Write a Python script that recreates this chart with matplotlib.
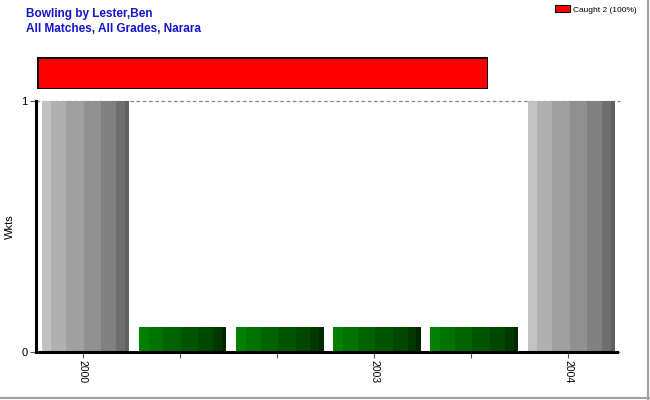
import matplotlib
matplotlib.use('Agg')
import matplotlib.pyplot as plt
from matplotlib.lines import Line2D
from matplotlib.patches import Patch

plt.rcParams['font.family'] = ['Liberation Sans', 'DejaVu Sans']

# data
seasons = ['2000', '', '', '2003', '', '2004']
wkts = [1, 0.1, 0.1, 0.1, 0.1, 1]
played = [True, False, False, False, False, True]   # gray = bowled, green = no wickets
dismissals = ['Caught']
dismissal_counts = [2]
dismissal_pct = [100]

# stripe look of the bars (light -> dark)
stripe_w = [0.11, 0.17, 0.2, 0.2, 0.17, 0.1, 0.05]
grays = ['#c2c2c2', '#b0b0b0', '#a0a0a0', '#909090', '#808080', '#6e6e6e', '#606060']
greens = ['#008000', '#007200', '#006300', '#005600', '#004800', '#003800', '#002800']

W, H = 650, 400
fig = plt.figure(figsize=(6.5, 4), dpi=100)

# main axes
ax = fig.add_axes([36 / W, 1 - 352 / H, 581 / W, 251 / H])
bw = 0.9
off = 0.03
for i, (v, p) in enumerate(zip(wkts, played)):
    cols = grays if p else greens
    left = i - bw / 2 + off
    for w, c in zip(stripe_w, cols):
        ax.bar(left, v, width=w * bw, align='edge', color=c, linewidth=0, zorder=2)
        left += w * bw

ax.set_xlim(-0.48, 5.5)
ax.set_ylim(0, 1)
ax.set_yticks([0, 1])
ax.set_yticklabels(['0', '1'], fontsize=8)
ax.set_xticks(range(len(seasons)))
ax.set_xticklabels(seasons, rotation=270, fontsize=7.5)
ax.tick_params(axis='both', length=4, width=0.8, color='#555555', pad=2)
for y in [0, 1]:
    ax.axhline(y, color='#888888', linestyle=(0, (3, 2)), linewidth=0.9, zorder=1,
               xmin=0, xmax=1.005, clip_on=False)
ax.spines['top'].set_visible(False)
ax.spines['right'].set_visible(False)
ax.spines['left'].set_linewidth(2.2)
ax.spines['bottom'].set_linewidth(2.2)
ax.spines['left'].set_zorder(3)
ax.spines['bottom'].set_zorder(3)
ax.set_ylabel('Wkts', fontsize=8)
ax.yaxis.set_label_coords((15 - 36) / 581, 0.5)

# dismissal bar on top
tax = fig.add_axes([37 / W, 1 - 89 / H, 451 / W, 32 / H])
left = 0
for d, pct in zip(dismissals, dismissal_pct):
    tax.barh(0, pct, left=left, height=1, color='#ff0000', edgecolor='black', linewidth=2)
    left += pct
tax.set_xlim(0, 100)
tax.set_ylim(-0.5, 0.5)
tax.axis('off')

# legend
handles = [Patch(facecolor='#ff0000', edgecolor='black', linewidth=0.8,
                 label=f'{d} {n} ({p}%)')
           for d, n, p in zip(dismissals, dismissal_counts, dismissal_pct)]
fig.legend(handles=handles, loc='upper right', bbox_to_anchor=(640 / W, 1 - 2 / H),
           frameon=False, fontsize=6, handlelength=1.8, handleheight=0.9,
           handletextpad=0.4, borderaxespad=0)

# titles
fig.text(26 / W, 1 - 17 / H, 'Bowling by Lester,Ben', color='#1414c8',
         fontsize=8.5, fontweight='bold')
fig.text(26 / W, 1 - 32 / H, 'All Matches, All Grades, Narara', color='#1414c8',
         fontsize=8.5, fontweight='bold')

# frame shadow right and bottom
fig.add_artist(Line2D([648 / W, 648 / W], [0, 1], color='#a0a0a0', linewidth=1.5))
fig.add_artist(Line2D([0, 1], [2 / H, 2 / H], color='#a0a0a0', linewidth=1.5))

fig.savefig('out.png', dpi=100)
